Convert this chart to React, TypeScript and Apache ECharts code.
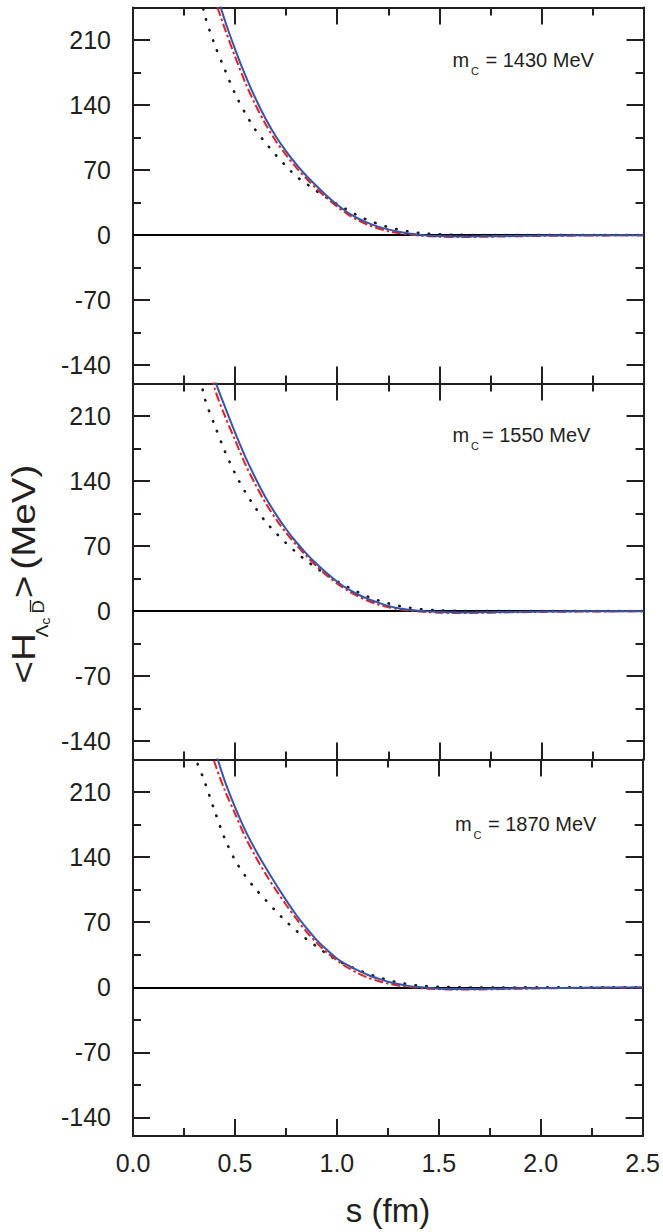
import React, { useEffect, useRef } from "react";
import * as echarts from "echarts";

// ---------------- data ----------------
const S_GRID = [0.25, 0.3, 0.35, 0.4, 0.45, 0.5, 0.55, 0.6, 0.65, 0.7, 0.75, 0.8, 0.85, 0.9, 0.95, 1.0, 1.05, 1.1, 1.15, 1.2, 1.25, 1.3, 1.35, 1.4, 1.5, 1.6, 1.7, 1.8, 1.9, 2.0, 2.2, 2.5];

const BLUE_1430 = [null, null, 330, 268, 231, 200, 172, 147, 125, 106, 90, 76, 63.5, 52.5, 42, 32.5, 24.5, 18, 13, 9, 6, 3.5, 1.5, 0.3, -1.2, -1.6, -1.5, -1.2, -0.9, -0.7, -0.4, -0.2];
const RED_1430 = [null, null, 300, 255, 222, 192, 164, 140, 119, 101, 86, 72.5, 60.5, 49.5, 39.5, 30.5, 22.5, 16, 11, 7, 4, 2, 0.5, -0.6, -1.8, -2.2, -2.0, -1.7, -1.3, -1.0, -0.6, -0.3];
const DOT_1430 = [null, 290, 238, 205, 178, 152, 131, 113, 99, 86, 74, 63, 55, 47, 40, 33, 27, 21, 16, 12, 8.5, 5.8, 3.7, 2.2, 0.7, 0.1, -0.2, -0.2, -0.2, -0.1, 0, 0];

const BLUE_1550 = [null, null, 300, 250, 220, 192, 166, 143, 122, 104, 88, 74, 61.5, 50.5, 40.5, 31.5, 24, 18, 13, 9, 5.5, 3, 1.3, 0.2, -1.2, -1.6, -1.5, -1.2, -0.9, -0.7, -0.4, -0.2];
const RED_1550 = [null, null, 290, 240, 210, 184, 158, 136, 116, 99, 84, 71, 59, 48, 38, 29.5, 22, 16, 11, 7, 4, 2, 0.5, -0.6, -1.8, -2.2, -2.0, -1.7, -1.3, -1.0, -0.6, -0.3];
const DOT_1550 = [null, 285, 230, 200, 172, 148, 128, 111, 96, 84, 73, 63, 54, 46, 39, 32, 26, 20.5, 15.5, 11.5, 8.2, 5.6, 3.6, 2.1, 0.7, 0.1, -0.2, -0.2, -0.2, -0.1, 0, 0];

const BLUE_1870 = [null, null, 320, 258, 222, 194, 169, 148, 129, 111, 94, 78, 64, 51, 40.5, 31, 24, 18.5, 13.5, 9.5, 6, 3.5, 1.5, 0.2, -1.5, -2, -1.8, -1.5, -1.2, -0.9, -0.5, -0.2];
const RED_1870 = [null, null, 280, 242, 212, 187, 162, 141, 122, 105, 89, 74, 60, 48, 37.5, 29, 21.5, 15.5, 10.5, 7, 4, 2, 0.5, -0.8, -2, -2.5, -2.3, -2, -1.6, -1.2, -0.7, -0.3];
const DOT_1870 = [285, 250, 222, 190, 160, 137, 120, 106, 94, 82, 71, 61, 52, 44, 36, 29, 24, 19, 15, 11, 7.8, 5.2, 3.3, 1.8, 0.5, 0, -0.3, -0.3, -0.2, -0.1, 0, 0];

const PANEL_EQ = ["= 1430 MeV", "= 1550 MeV", "= 1870 MeV"];
const X_MIN = 0;
const X_MAX = 2.5;
const X_STEP = 0.5;
const Y_MIN = -160;
const Y_MAX = 245;
const Y_MAJOR = [-140, -70, 0, 70, 140, 210];
const Y_MINOR = [-105, -35, 35, 105, 175];

// ---------------- styles ----------------
const FONT = "'Liberation Sans', Arial, Helvetica, sans-serif";
const INK = "#231f20";
const BLUE = "#3456a6";
const RED = "#e41f26";
const DOTC = "#1a1a1a";

const GRID_LEFT = 133;
const GRID_WIDTH = 510.5;
const GRID_TOPS = [7.5, 383.5, 759.5];
const GRID_HEIGHTS = [376, 376, 376.5];
const ANNOT_POS = [
  { x: 452.5, base: 67 },
  { x: 452.5, base: 442 },
  { x: 455, base: 830.5 },
];
const EQ_X_OFF = [33, 29.5, 33];

function pairs(vals: (number | null)[]) {
  const out: number[][] = [];
  S_GRID.forEach((s, i) => {
    const v = vals[i];
    if (v !== null && v !== undefined) out.push([s, v]);
  });
  return out;
}

const PANEL_SERIES = [
  { blue: BLUE_1430, red: RED_1430, dot: DOT_1430 },
  { blue: BLUE_1550, red: RED_1550, dot: DOT_1550 },
  { blue: BLUE_1870, red: RED_1870, dot: DOT_1870 },
];

function buildOption() {
  const grid: any[] = [];
  const xAxis: any[] = [];
  const yAxis: any[] = [];
  const series: any[] = [];
  const lineStyle = { color: INK, width: 2 };

  for (let i = 0; i < 3; i++) {
    grid.push({ left: GRID_LEFT, top: GRID_TOPS[i], width: GRID_WIDTH, height: GRID_HEIGHTS[i] });
    ["bottom", "top"].forEach((pos) => {
      xAxis.push({
        type: "value",
        gridIndex: i,
        position: pos,
        min: X_MIN,
        max: X_MAX,
        interval: X_STEP,
        axisLine: { show: true, onZero: false, lineStyle },
        axisTick: { show: true, inside: true, length: 17, lineStyle },
        minorTick: { show: true, splitNumber: 2, length: 8, lineStyle },
        splitLine: { show: false },
        minorSplitLine: { show: false },
        axisLabel: {
          show: pos === "bottom" && i === 2,
          margin: 14,
          fontSize: 25,
          fontFamily: FONT,
          color: INK,
          formatter: (v: number) => v.toFixed(1),
        },
      });
    });
    ["left", "right"].forEach((pos) => {
      yAxis.push({
        type: "value",
        gridIndex: i,
        position: pos,
        min: Y_MIN,
        max: Y_MAX,
        axisLine: { show: true, lineStyle },
        axisTick: { show: true, inside: true, length: 17, lineStyle, customValues: Y_MAJOR },
        splitLine: { show: false },
        axisLabel: {
          show: pos === "left",
          customValues: Y_MAJOR,
          margin: 22,
          fontSize: 25,
          fontFamily: FONT,
          color: INK,
        },
      });
      yAxis.push({
        type: "value",
        gridIndex: i,
        position: pos,
        min: Y_MIN,
        max: Y_MAX,
        axisLine: { show: false },
        axisTick: { show: true, inside: true, length: 8, lineStyle, customValues: Y_MINOR },
        splitLine: { show: false },
        axisLabel: { show: false },
      });
    });

    const ps = PANEL_SERIES[i];
    const common = {
      type: "line",
      xAxisIndex: 2 * i,
      yAxisIndex: 4 * i,
      showSymbol: false,
      symbol: "none",
      smooth: 0.3,
      clip: true,
      silent: true,
    };
    series.push({
      ...common,
      name: "dot" + i,
      data: pairs(ps.dot),
      lineStyle: { color: DOTC, width: 2.6, type: [0.5, 10.5], cap: "round" },
      markLine: {
        silent: true,
        symbol: ["none", "none"],
        z: 1,
        label: { show: false },
        lineStyle: { color: "#000", width: 2, type: "solid" },
        data: [{ yAxis: 0 }],
      },
      z: 2,
    });
    series.push({
      ...common,
      name: "red" + i,
      data: pairs(ps.red),
      lineStyle: { color: RED, width: 2, type: [9, 3, 2.5, 3] },
      z: 3,
    });
    series.push({
      ...common,
      name: "blue" + i,
      data: pairs(ps.blue),
      lineStyle: { color: BLUE, width: 2 },
      z: 4,
    });
  }

  const graphic: any[] = [];
  for (let i = 0; i < 3; i++) {
    const a = ANNOT_POS[i];
    graphic.push({
      type: "text",
      x: a.x,
      y: a.base - 0.3465 * 20,
      style: { text: "m", font: `20px ${FONT}`, fill: INK, align: "left", verticalAlign: "middle" },
    });
    graphic.push({
      type: "text",
      x: a.x + 18.5,
      y: a.base + 8 - 0.3465 * 11,
      style: { text: "C", font: `11px ${FONT}`, fill: INK, align: "left", verticalAlign: "middle" },
    });
    graphic.push({
      type: "text",
      x: a.x + EQ_X_OFF[i],
      y: a.base - 0.3465 * 20,
      style: { text: PANEL_EQ[i], font: `20px ${FONT}`, fill: INK, align: "left", verticalAlign: "middle" },
    });
  }
  graphic.push({
    type: "text",
    x: 388,
    y: 1210,
    style: { text: "s (fm)", font: `33px ${FONT}`, fill: INK, align: "center", verticalAlign: "middle" },
  });
  const t = (text: string, x: number, y: number, fs: number) => ({
    type: "text",
    x,
    y,
    style: { text, font: `${fs}px ${FONT}`, fill: INK, align: "left", verticalAlign: "middle" },
  });
  graphic.push({
    type: "group",
    x: 35,
    y: 682,
    rotation: Math.PI / 2,
    scaleX: 1.17,
    children: [
      t("<", -1.5, -11.4, 33),
      t("H", 18, -11.4, 33),
      t("\u039B", 38.3, 7.2, 16),
      t("c", 49, 10.8, 12),
      t("D", 58.5, 3.8, 16),
      {
        type: "line",
        shape: { x1: 59.8, y1: -4.5, x2: 70.1, y2: -4.5 },
        style: { stroke: INK, lineWidth: 1.3 },
      },
      t(">", 71.5, -11.4, 33),
      t("(MeV)", 96, -11.4, 33),
    ],
  });

  return {
    animation: false,
    backgroundColor: "#ffffff",
    grid,
    xAxis,
    yAxis,
    series,
    graphic,
  };
}

export default function App() {
  const ref = useRef<HTMLDivElement>(null);
  useEffect(() => {
    if (!ref.current) return;
    const chart = echarts.init(ref.current, undefined, { renderer: "svg" });
    chart.setOption(buildOption() as any);
    return () => chart.dispose();
  }, []);
  return (
    <div
      ref={ref}
      style={{ position: "absolute", left: 0, top: 0, width: 663, height: 1232, background: "#fff" }}
    />
  );
}
